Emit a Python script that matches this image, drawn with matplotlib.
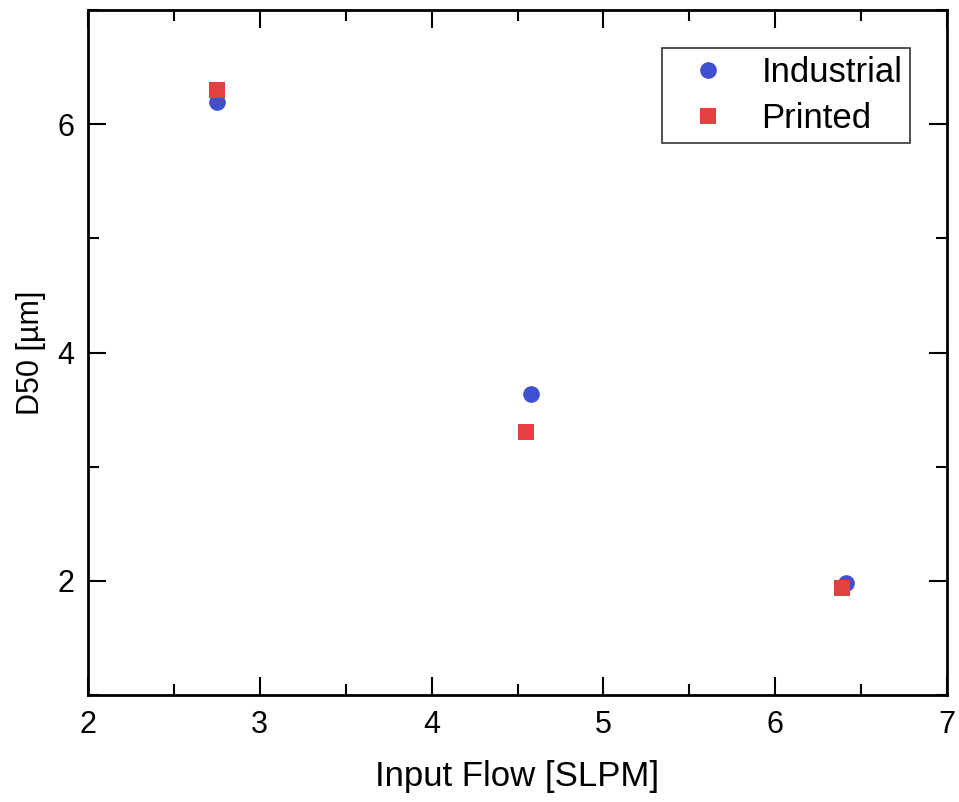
import matplotlib
matplotlib.use("Agg")
import matplotlib.pyplot as plt
from matplotlib.ticker import MultipleLocator

plt.rcParams['font.family'] = ['Liberation Sans', 'DejaVu Sans']

industrial_x = [2.75, 4.58, 6.41]
industrial_y = [6.19, 3.64, 1.98]
printed_x = [2.75, 4.55, 6.39]
printed_y = [6.30, 3.30, 1.94]
x_ticks = [2, 3, 4, 5, 6, 7]
y_ticks = [2, 4, 6]

fig = plt.figure(figsize=(9.59, 8.02), dpi=100)
ax = fig.add_axes([0.0918, 0.1334, 0.8957, 0.8541])

ax.plot(industrial_x, industrial_y, 'o', color='#3d50cf', markersize=12,
        label='Industrial', markeredgewidth=0)
ax.plot(printed_x, printed_y, 's', color='#e4403f', markersize=11,
        label='Printed', markeredgewidth=0)

ax.set_xlim(2, 7)
ax.set_ylim(1, 7)
ax.set_xticks(x_ticks)
ax.set_yticks(y_ticks)
ax.xaxis.set_minor_locator(MultipleLocator(0.5))
ax.yaxis.set_minor_locator(MultipleLocator(1))
ax.tick_params(which='both', direction='in', top=True, right=True,
               width=1.5, labelsize=22)
ax.tick_params(axis='x', pad=11)
ax.tick_params(axis='y', pad=10)
ax.tick_params(which='major', length=13)
ax.tick_params(which='minor', length=8)
for s in ax.spines.values():
    s.set_linewidth(2)

ax.set_xlabel('Input Flow [SLPM]', fontsize=25, labelpad=14)
ax.set_ylabel('D50 [µm]', fontsize=22, labelpad=8)

leg = ax.legend(loc='upper right', bbox_to_anchor=(0.957, 0.9445),
                borderaxespad=0, fontsize=25,
                frameon=True, fancybox=False, edgecolor='black',
                handletextpad=0.43, borderpad=0.22, labelspacing=0.38,
                handlelength=2.2)
leg.get_frame().set_linewidth(1.2)

fig.savefig('out.png', dpi=100)
